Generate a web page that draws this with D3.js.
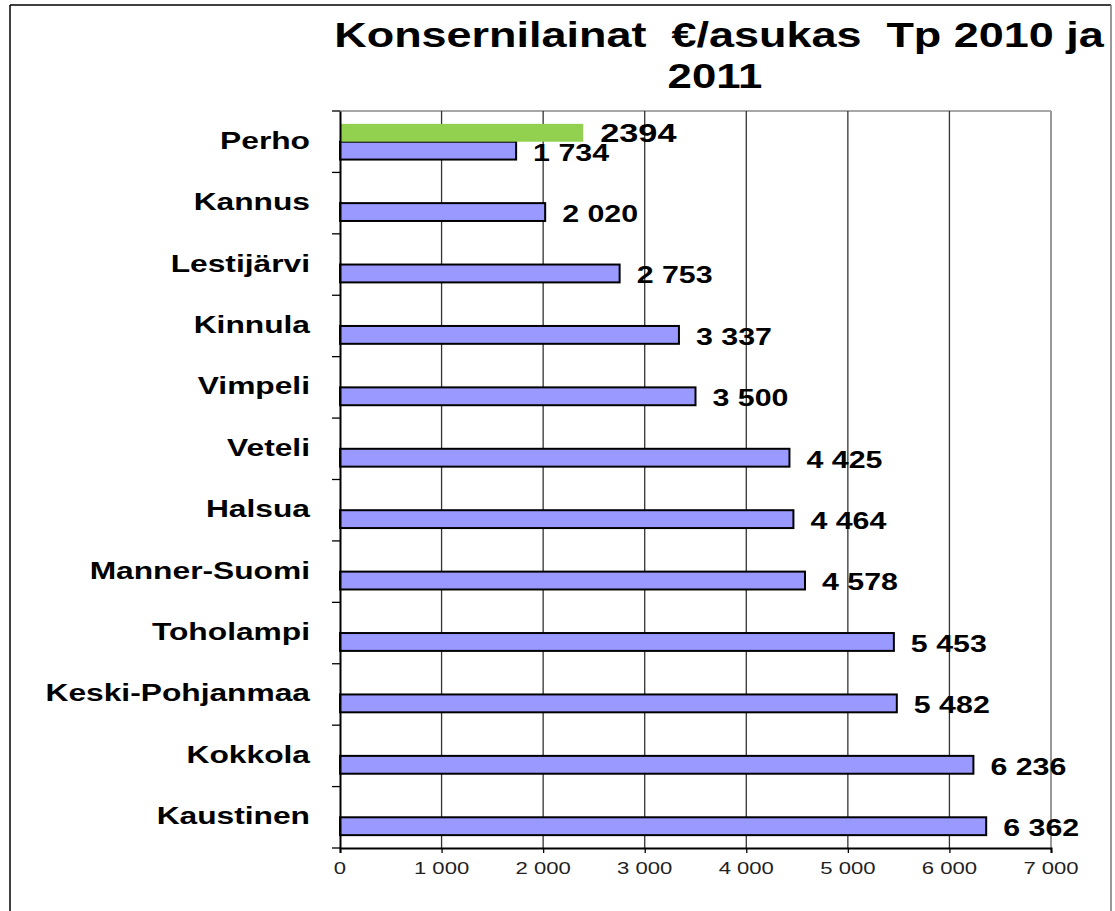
<!DOCTYPE html>
<html>
<head>
<meta charset="utf-8">
<script src="https://cdn.jsdelivr.net/npm/d3@7"></script>
<style>
  body { margin: 0; background: #fff; }
  svg { display: block; font-family: 'Liberation Sans', Arial, sans-serif; }
</style>
</head>
<body>
<svg id="chart"></svg>
<script>
const WIDTH = 1115;
const HEIGHT = 911;

const categories = ['Perho', 'Kannus', 'Lestijärvi', 'Kinnula', 'Vimpeli', 'Veteli', 'Halsua',
  'Manner-Suomi', 'Toholampi', 'Keski-Pohjanmaa', 'Kokkola', 'Kaustinen'];
const values2010 = [1734, 2020, 2753, 3337, 3500, 4425, 4464, 4578, 5453, 5482, 6236, 6362];
const values2011 = [2394, null, null, null, null, null, null, null, null, null, null, null];
const xTicks = [0, 1000, 2000, 3000, 4000, 5000, 6000, 7000];
const titleLines = ['Konsernilainat  €/asukas  Tp 2010 ja', '2011'];

// the original picture is stretched sideways, so text gets a x-scale too
const STRETCH = 1.32;

const plot = { left: 340, right: 1051, top: 111, bottom: 848 };

const fi = d3.formatLocale({ decimal: ',', thousands: ' ', grouping: [3], currency: ['', ''] });
const fmt = fi.format(',d');

const xScale = d3.scaleLinear()
  .domain([0, 7000])
  .range([plot.left, plot.right]);

const yScale = d3.scaleBand()
  .domain(categories)
  .range([plot.top, plot.bottom]);

const ySub = d3.scaleBand()
  .domain(['2011', '2010'])
  .range([0, yScale.bandwidth()])
  .paddingOuter(0.72);

const svg = d3.select('#chart')
  .attr('width', WIDTH)
  .attr('height', HEIGHT);

// outer frame
svg.append('line').attr('x1', 10).attr('x2', 10).attr('y1', 5).attr('y2', HEIGHT)
  .attr('stroke', '#000').attr('stroke-width', 1.5);
svg.append('line').attr('x1', 10).attr('x2', 1111).attr('y1', 5).attr('y2', 5)
  .attr('stroke', '#000').attr('stroke-width', 1.5);
svg.append('line').attr('x1', 1111).attr('x2', 1111).attr('y1', 5).attr('y2', HEIGHT)
  .attr('stroke', '#777').attr('stroke-width', 1.5);

function stretchedText(g, x, y, str, size, weight, anchor, k) {
  return g.append('text')
    .attr('transform', `translate(${x},${y}) scale(${k},1)`)
    .attr('text-anchor', anchor)
    .attr('font-size', size)
    .attr('font-weight', weight)
    .attr('fill', '#000')
    .text(str);
}

// title
const title = svg.append('g');
stretchedText(title, 719, 47, titleLines[0], 35, 'bold', 'middle', 1.285).style('white-space', 'pre');
stretchedText(title, 715, 88, titleLines[1], 35, 'bold', 'middle', 1.25);

// plot frame: top and right in grey
svg.append('line').attr('x1', plot.left).attr('x2', plot.right).attr('y1', plot.top).attr('y2', plot.top)
  .attr('stroke', '#8a8a8a').attr('stroke-width', 1.5);
svg.append('line').attr('x1', plot.right).attr('x2', plot.right).attr('y1', plot.top).attr('y2', plot.bottom)
  .attr('stroke', '#999').attr('stroke-width', 2);

// vertical gridlines
svg.append('g')
  .selectAll('line')
  .data(xTicks.filter(d => d > 0 && d < 7000))
  .enter()
  .append('line')
  .attr('x1', d => xScale(d))
  .attr('x2', d => xScale(d))
  .attr('y1', plot.top)
  .attr('y2', plot.bottom)
  .attr('stroke', '#333')
  .attr('stroke-width', 1.3);

// bars 2010
svg.append('g')
  .selectAll('rect')
  .data(values2010)
  .enter()
  .append('rect')
  .attr('x', xScale(0))
  .attr('y', (d, i) => yScale(categories[i]) + ySub('2010'))
  .attr('width', d => xScale(d) - xScale(0))
  .attr('height', ySub.bandwidth())
  .attr('fill', '#9999ff')
  .attr('stroke', '#000')
  .attr('stroke-width', 2);

// bars 2011
const data2011 = values2011.map((v, i) => ({ v, c: categories[i] })).filter(d => d.v != null);
svg.append('g')
  .selectAll('rect')
  .data(data2011)
  .enter()
  .append('rect')
  .attr('x', xScale(0))
  .attr('y', d => yScale(d.c) + ySub('2011'))
  .attr('width', d => xScale(d.v) - xScale(0))
  .attr('height', ySub.bandwidth())
  .attr('fill', '#92d050');

// value labels
const labels = svg.append('g');
values2010.forEach((v, i) => {
  const y = yScale(categories[i]) + ySub('2010') + ySub.bandwidth() + 1;
  stretchedText(labels, xScale(v) + 17, y, fmt(v), 23, 'bold', 'start', STRETCH);
});
data2011.forEach(d => {
  const y = yScale(d.c) + ySub('2011') + ySub.bandwidth() + 0.5;
  stretchedText(labels, xScale(d.v) + 17, y, String(d.v), 26, 'bold', 'start', STRETCH);
});

// y axis
const leftAxis = d3.axisLeft(yScale).tickSize(0).tickFormat('');
const yAxisG = svg.append('g')
  .attr('transform', `translate(${plot.left},0)`)
  .call(leftAxis);
yAxisG.select('.domain').attr('stroke', '#000').attr('stroke-width', 2);
// boundary ticks between categories
yAxisG.selectAll('.bound')
  .data(categories.map(c => yScale(c)).concat([plot.bottom]))
  .enter()
  .append('line')
  .attr('x1', -8).attr('x2', 0)
  .attr('y1', d => d).attr('y2', d => d)
  .attr('stroke', '#000').attr('stroke-width', 1.3);

const catLabels = svg.append('g');
categories.forEach(c => {
  stretchedText(catLabels, 310, yScale(c) + yScale.bandwidth() / 2 + 7, c, 23, 'bold', 'end', 1.38);
});

// x axis
const bottomAxis = d3.axisBottom(xScale).tickValues(xTicks).tickSize(5).tickFormat('');
const xAxisG = svg.append('g')
  .attr('transform', `translate(0,${plot.bottom})`)
  .call(bottomAxis);
xAxisG.select('.domain').attr('stroke', '#000').attr('stroke-width', 2);
xAxisG.selectAll('.tick line').attr('stroke', '#000').attr('stroke-width', 1.3);

const tickLabels = svg.append('g');
xTicks.forEach(t => {
  stretchedText(tickLabels, xScale(t), 874, fmt(t), 16, 'normal', 'middle', 1.38).attr('fill', '#222');
});
</script>
</body>
</html>
